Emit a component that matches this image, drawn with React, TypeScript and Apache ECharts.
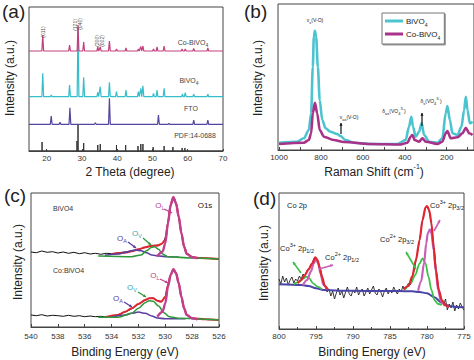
import React, { useEffect, useRef } from 'react';
import * as echarts from 'echarts';

const FONT = "'Liberation Sans', Arial, Helvetica, sans-serif";

// ---------- (a) XRD ----------
const xrdTickValues = [20, 30, 40, 50, 60, 70];
const xrdCoBase = 100;
const xrdCoPeaks = [[18.9, 116], [26.5, 106], [28.9, 126], [30.5, 109], [34.5, 104], [35.2, 104], [37.8, 110], [39.8, 102], [42.5, 103], [46.0, 102], [46.7, 104.5], [47.3, 105], [50.3, 102], [51.3, 104], [53.3, 105], [58.4, 102], [59.3, 102], [61.7, 102.5], [65.7, 103]];
const xrdBiBase = 54.3;
const xrdBiPeaks = [[18.9, 77.7], [21.3, 56], [26.5, 66], [28.9, 124], [30.5, 73.7], [34.5, 58.7], [35.2, 64.3], [37.8, 68.7], [39.8, 59.3], [42.5, 61], [46.0, 59.3], [46.7, 62.7], [47.3, 65.3], [50.3, 57.7], [51.3, 61], [53.3, 62.7], [58.5, 57], [59.3, 58.3], [61.7, 56.7], [65.7, 56.7]];
const xrdFtoBase = 26.7;
const xrdFtoPeaks = [[21.3, 35], [23.8, 28.7], [26.6, 43.3], [33.8, 28.3], [37.8, 52.7], [51.7, 36], [54.7, 27.7], [61.7, 31], [65.7, 31]];
const pdfSticks = [[18.7, 9], [28.6, 10], [28.9, 26], [30.5, 8], [34.5, 6], [35.2, 7], [39.8, 6], [42.4, 6], [45.9, 5], [46.7, 7], [47.3, 7], [50.2, 4], [53.3, 5], [55.8, 4], [58.4, 3], [59.2, 3]];

// ---------- (b) Raman ----------
const ramanLabelValues = [1000, 800, 600, 400, 200];
const ramanTickValues = [1000, 900, 800, 700, 600, 500, 400, 300, 200, 100];
const ramanBiVO4 = [[1000, 7.3], [914, 8.3], [882, 11.7], [858, 20], [847, 36.7], [839, 83.3], [834, 113.3], [829, 119.3], [823, 113.3], [815, 83.3], [806, 50], [794, 30], [778, 21.7], [755, 18.3], [723, 16], [707, 14], [683, 10], [643, 7.3], [563, 6], [436, 6], [396, 10], [380, 23.3], [369, 33.3], [361, 23.3], [348, 13.3], [332, 18.3], [320, 26.7], [308, 15], [284, 8.3], [245, 7.3], [221, 11.7], [205, 36.7], [197, 44], [185, 30], [173, 16.7], [149, 15], [130, 23.3], [117, 40], [109, 53.3], [101, 40], [90, 26.7], [77, 28.3]];
const ramanCoBiVO4 = [[1000, 6], [882, 7.3], [858, 10], [847, 16.7], [839, 36.7], [829, 47.3], [818, 36.7], [806, 20], [786, 13.3], [739, 10], [691, 8], [563, 6], [420, 5.5], [388, 7.3], [372, 13.3], [364, 15], [353, 10], [332, 8.3], [316, 11.7], [300, 8.3], [245, 6], [221, 8.3], [205, 16.7], [197, 19], [181, 11.7], [149, 12.7], [125, 16.7], [109, 22.3], [93, 16.7], [77, 15]];

// ---------- (c) XPS O1s ----------
const cTopRaw = [[540, 75], [539.6, 74.3], [539.2, 76], [538.8, 74.7], [538.4, 75.3], [538, 74], [537.6, 75], [537.2, 73.7], [536.8, 74.7], [536.4, 73.3], [536, 74.3], [535.6, 73], [535.2, 73.7], [534.8, 72.7], [534.4, 73.7], [534, 73.3], [533.6, 74], [533.2, 74.7], [532.8, 75.3], [532.4, 76.3], [532, 77.7], [531.6, 79], [531.2, 80.7], [530.8, 81.7], [530.4, 82], [530.1, 85], [529.9, 95], [529.7, 114], [529.5, 127], [529.3, 128], [529.1, 117], [528.9, 102], [528.7, 86], [528.5, 76], [528.2, 71], [527.8, 69.3], [527.4, 69], [527, 68.7], [526.6, 68.3], [526.2, 68], [526, 68]];
const cTopEnvelope = [[534, 73], [533, 74.3], [532.5, 75.7], [532, 77.7], [531.5, 79.7], [531, 81.3], [530.6, 81.3], [530.3, 83], [530, 87], [529.8, 104.3], [529.6, 122.3], [529.4, 130], [529.2, 124], [529, 110.5], [528.8, 94], [528.6, 80.5], [528.4, 73.3], [528, 70], [527.5, 69], [526, 68]];
const cTopOL = [[530.6, 71], [530.2, 75.3], [530, 83.7], [529.8, 103.7], [529.6, 122], [529.4, 129.7], [529.2, 123.7], [529, 110.3], [528.8, 93.7], [528.6, 80.3], [528.4, 73], [528, 69.7], [527.6, 68.7]];
const cTopOV = [[535, 71], [532.5, 70.3], [531.8, 72], [531.4, 76.3], [531, 79.7], [530.8, 80.3], [530.5, 77.7], [530.2, 73], [529.8, 70.3], [528, 69], [526, 68]];
const cTopOA = [[534.5, 71.7], [533.5, 73], [533, 74.7], [532.5, 76.3], [532.2, 77], [531.8, 76.3], [531.4, 74.3], [531, 72], [530.5, 71], [529.8, 70.3], [529, 70]];
const cBotRaw = [[540, 12], [539.6, 11.3], [539.2, 12.3], [538.8, 11], [538.4, 11.7], [538, 11.3], [537.6, 10.7], [537.2, 11.7], [536.8, 10.7], [536.4, 11.3], [536, 10.3], [535.6, 11], [535.2, 10.3], [534.8, 10.7], [534.4, 10], [534, 11], [533.6, 12], [533.2, 14], [532.8, 16], [532.4, 19], [532, 23], [531.6, 26], [531.2, 28.7], [530.9, 29], [530.6, 26.5], [530.3, 25.5], [530, 30], [529.8, 42], [529.6, 52], [529.4, 58], [529.2, 54], [529, 44], [528.8, 30.5], [528.6, 19], [528.4, 12], [528, 8.7], [527.6, 8], [527.2, 7.7], [526.8, 7.3], [526.4, 7.3], [526, 7]];
const cBotEnvelope = [[534.5, 9.7], [533.5, 12], [533, 15.3], [532.5, 18.7], [532, 23], [531.5, 27], [531.2, 28.7], [530.9, 28.7], [530.6, 26.3], [530.3, 25.3], [530, 30.3], [529.8, 42], [529.6, 52], [529.4, 58], [529.2, 54], [529, 43.7], [528.8, 30.3], [528.6, 18.7], [528.4, 12], [528, 8.7], [527, 7.7], [526, 7]];
const cBotOL = [[530.6, 10.3], [530.2, 15.3], [530, 23.7], [529.8, 40.3], [529.6, 52], [529.4, 57.7], [529.2, 53.7], [529, 43.7], [528.8, 30.3], [528.6, 18.7], [528.4, 12], [528, 8.7], [527.6, 7.7]];
const cBotOV = [[535, 9.7], [533.5, 9.7], [532.5, 13.7], [532, 18.7], [531.5, 24.3], [531.2, 26.3], [530.9, 25.7], [530.5, 21], [530.1, 14.3], [529.7, 10.3], [529, 8.7], [526, 7]];
const cBotOA = [[534, 9.7], [533, 12], [532.5, 13.7], [532, 15], [531.5, 13.7], [531, 11], [530.6, 9], [530, 8.3], [528.5, 8.3]];

// ---------- (d) XPS Co 2p ----------
const dRaw = [[800, 50], [799.75, 45], [799.5, 53], [799.25, 47], [799, 51], [798.75, 44], [798.5, 49], [798.25, 52], [798, 46], [797.75, 50], [797.5, 48], [797.25, 53], [797, 50], [796.75, 55], [796.5, 53], [796.25, 58], [796, 60], [795.75, 63], [795.5, 66], [795.25, 71], [795, 70], [794.75, 68], [794.5, 62], [794.25, 55], [794, 47], [793.75, 42], [793.5, 37], [793.25, 40], [793, 33], [792.75, 38], [792.5, 30], [792.25, 36], [792, 41], [791.75, 34], [791.5, 38], [791.25, 31], [791, 37], [790.75, 42], [790.5, 35], [790.25, 33], [790, 39], [789.75, 36], [789.5, 42], [789.25, 34], [789, 38], [788.75, 40], [788.5, 33], [788.25, 37], [788, 41], [787.75, 35], [787.5, 39], [787.25, 43], [787, 36], [786.75, 34], [786.5, 40], [786.25, 37], [786, 32], [785.75, 38], [785.5, 41], [785.25, 35], [785, 39], [784.75, 36], [784.5, 42], [784.25, 38], [784, 35], [783.75, 40], [783.5, 37], [783.25, 43], [783, 39], [782.75, 42], [782.5, 46], [782.25, 44], [782, 52], [781.75, 58], [781.5, 68], [781.25, 78], [781, 89], [780.75, 102], [780.5, 112], [780.25, 120], [780, 123], [779.75, 119], [779.5, 110], [779.25, 94], [779, 78], [778.75, 58], [778.5, 44], [778.25, 33], [778, 28], [777.75, 24], [777.5, 30], [777.25, 19], [777, 25], [776.75, 21], [776.5, 27], [776.25, 18], [776, 24], [775.75, 20], [775.5, 26], [775.25, 22], [775, 19]];
const dBackground = [[800, 44.7], [797, 44], [796, 43], [795, 40.7], [794, 39], [792, 38.3], [788, 38], [784, 38], [782, 37.7], [781, 37], [780, 35.7], [779, 31.7], [778, 26.3], [777, 23], [776, 22], [775, 21.7]];
const dEnvelope12 = [[797.5, 45.7], [797, 49], [796.5, 54], [796, 59.7], [795.5, 65.7], [795.1, 71.7], [794.8, 69], [794.5, 61.7], [794.2, 52.3], [793.8, 43], [793.4, 39.7]];
const dEnvelope32 = [[783.2, 39.7], [782.5, 43], [782, 52.3], [781.5, 69], [781, 89], [780.6, 109], [780.2, 121.7], [780, 123], [779.7, 119], [779.4, 105.7], [779.1, 82.3], [778.8, 59], [778.4, 39], [778, 29], [777.5, 23.7], [777, 22.3]];
const dCo2p12 = [[796.8, 43.7], [796.2, 49], [795.7, 57.3], [795.3, 65.7], [795, 69.7], [794.7, 65.7], [794.4, 55.7], [794, 44], [793.5, 39.7]];
const dCo2p32 = [[781.2, 38.3], [780.8, 47.3], [780.4, 65.7], [780.1, 85.7], [779.9, 95.7], [779.6, 99.7], [779.4, 95.7], [779.1, 79], [778.8, 57.3], [778.5, 39], [778.1, 27.3], [777.6, 23]];
const dCo3p12 = [[798, 44.7], [797.2, 47.3], [796.7, 50.7], [796.3, 52.3], [795.9, 50.7], [795.4, 45.7], [794.8, 42.3], [794.2, 39.7]];
const dCo3p32 = [[783, 39], [782.2, 45.7], [781.6, 54], [781, 65.7], [780.6, 70.7], [780.2, 65.7], [779.8, 52.3], [779.4, 39], [779, 29], [778.5, 25], [778, 24]];

function peakTrace(base: number, peaks: number[][], xMin: number, xMax: number) {
  const pts: number[][] = [[xMin, base]];
  for (const [p, h] of peaks) {
    pts.push([p - 0.25, base], [p, h], [p + 0.25, base]);
  }
  pts.push([xMax, base]);
  return pts;
}
function stickTrace(sticks: number[][], xMin: number, xMax: number) {
  const pts: number[][] = [[xMin, 0]];
  for (const [p, h] of sticks) pts.push([p, 0], [p, h], [p, 0]);
  pts.push([xMax, 0]);
  return pts;
}

const line = (name: string, data: number[][], gi: number, color: string, width: number, smooth: any = false) => ({
  type: 'line', name, xAxisIndex: gi, yAxisIndex: gi, data, showSymbol: false, symbol: 'none',
  lineStyle: { color, width }, itemStyle: { color }, silent: true, z: 2,
  smooth, smoothMonotone: smooth ? 'x' : undefined,
});

const subRich = (fs: number) => ({ fontSize: fs, fontFamily: FONT, verticalAlign: 'bottom', padding: [0, 0, -2, 0] });
const supRich = (fs: number) => ({ fontSize: fs, fontFamily: FONT, verticalAlign: 'top', padding: [-2, 0, 0, 0] });

function T(x: number, y: number, text: string, size: number, o: any = {}) {
  return {
    type: 'text', x, y, rotation: o.rot || 0, z: 100,
    style: {
      text, fontSize: size, fontFamily: FONT, fill: o.color || '#222',
      align: o.align || 'center', verticalAlign: o.va || 'middle',
      rich: o.rich,
    },
  };
}
function arrow(x1: number, y1: number, x2: number, y2: number, color: string, w = 1.3) {
  const a = Math.atan2(y2 - y1, x2 - x1);
  const h = 3.2;
  const p1 = [x2 - h * Math.cos(a - 0.5), y2 - h * Math.sin(a - 0.5)];
  const p2 = [x2 - h * Math.cos(a + 0.5), y2 - h * Math.sin(a + 0.5)];
  return [
    { type: 'line', z: 100, shape: { x1, y1, x2, y2 }, style: { stroke: color, lineWidth: w } },
    { type: 'polygon', z: 100, shape: { points: [[x2, y2], p1, p2] }, style: { fill: color } },
  ];
}

const axisCommon = {
  axisLine: { show: true, lineStyle: { color: '#444', width: 1 } },
  splitLine: { show: false },
  axisLabel: { fontSize: 8, color: '#333', fontFamily: FONT, margin: 3, formatter: (v: number) => String(v) },
};

export default function App() {
  const ref = useRef<HTMLDivElement>(null);
  useEffect(() => {
    if (!ref.current) return;
    const chart = echarts.init(ref.current, null, { renderer: 'svg' });
    const cOL = '#c0408e', cOV = '#2f9a3c', cOA = '#5a3ea0', cRed = '#e02630';
    const rich7 = { s: subRich(5), p: supRich(5) };
    const rich8 = { s: subRich(5.5), p: supRich(5.5) };
    const rich5 = { s: subRich(4), p: supRich(4) };
    const graphic: any[] = [
      T(2, 11, '(a)', 19, { align: 'left' }),
      T(244, 11, '(b)', 19, { align: 'left' }),
      T(4, 195, '(c)', 19, { align: 'left' }),
      T(253, 198, '(d)', 19, { align: 'left' }),
      T(10, 78, 'Intensity (a.u.)', 12, { rot: Math.PI / 2 }),
      T(258, 78, 'Intensity (a.u.)', 12, { rot: Math.PI / 2 }),
      T(18, 262, 'Intensity (a.u.)', 12, { rot: Math.PI / 2 }),
      T(264, 263, 'Intensity (a.u.)', 12, { rot: Math.PI / 2 }),
      T(130, 172, '2 Theta (degree)', 12),
      T(374, 172, 'Raman Shift (cm{p|-1})', 12, { rich: { p: { fontSize: 7, fontFamily: FONT, verticalAlign: 'top', padding: [-3, 0, 0, 0] } } }),
      T(125, 352, 'Binding Energy (eV)', 12),
      T(372, 352, 'Binding Energy (eV)', 12),
      T(193, 42, 'Co-BiVO{s|4}', 7, { color: '#444', rich: rich7 }),
      T(189, 80, 'BiVO{s|4}', 7, { color: '#444', rich: rich7 }),
      T(191, 108, 'FTO', 7, { color: '#444' }),
      T(195, 135, 'PDF:14-0688', 7, { color: '#444' }),
      T(43, 32, '(011)', 5, { rot: Math.PI / 2, color: '#555' }),
      T(74.5, 25, '(121)', 5, { rot: Math.PI / 2, color: '#555' }),
      T(79.5, 24, '(040)', 5, { rot: Math.PI / 2, color: '#555' }),
      T(97, 41, '(200)', 5, { rot: Math.PI / 2, color: '#555' }),
      T(101.5, 41, '(002)', 5, { rot: Math.PI / 2, color: '#555' }),
      T(315, 20, 'ν{s|s}(V-O)', 5, { rich: rich5 }),
      T(349, 117, 'ν{s|as}(V-O)', 5, { rich: rich5 }),
      T(394, 111, 'δ{s|as}(VO{s|4}{p|3-})', 5, { rich: rich5 }),
      T(431, 101, 'δ{s|s}(VO{s|4}{p|3-})', 5, { rich: rich5 }),
      ...arrow(341, 134, 341, 123, '#111', 1.2),
      ...arrow(422, 126, 422, 113, '#111', 1.2),
      T(53, 208, 'BiVO4', 7, { align: 'left', color: '#333' }),
      T(205, 205, 'O1s', 8, { color: '#222' }),
      T(53, 270, 'Co:BiVO4', 7, { align: 'left', color: '#333' }),
      T(160, 205, 'O{s|L}', 8, { color: cOL, rich: rich8 }),
      T(137, 233, 'O{s|V}', 8, { color: '#3aa8b4', rich: rich8 }),
      T(122, 238, 'O{s|A}', 8, { color: cOA, rich: rich8 }),
      T(155, 275, 'O{s|L}', 8, { color: cOL, rich: rich8 }),
      T(132, 287, 'O{s|V}', 8, { color: '#3aa8b4', rich: rich8 }),
      T(118, 298, 'O{s|A}', 8, { color: cOA, rich: rich8 }),
      ...arrow(164, 209, 172, 213, cOL),
      ...arrow(143, 238, 151, 245, cOV),
      ...arrow(128, 242, 136, 248, cOA),
      ...arrow(160, 279, 168, 283, cOL),
      ...arrow(138, 292, 146, 297, cOV),
      ...arrow(124, 302, 132, 307, cOA),
      T(297, 205, 'Co 2p', 7.5, { color: '#222' }),
      T(297, 248, 'Co{p|3+} 2p{s|1/2}', 7.5, { rich: rich8 }),
      T(342, 257, 'Co{p|2+} 2p{s|1/2}', 7.5, { rich: rich8 }),
      T(397, 239, 'Co{p|2+} 2p{s|3/2}', 7.5, { rich: rich8 }),
      T(447, 205, 'Co{p|3+} 2p{s|3/2}', 7.5, { rich: rich8 }),
      ...arrow(301, 273, 293, 262, '#3cbf46', 1.6),
      ...arrow(319, 269, 333, 265, '#c860b8', 1.6),
      ...arrow(416, 269, 406, 252, '#3cbf46', 1.6),
      ...arrow(434, 231, 440, 220, '#c860b8', 1.6),
    ];

    const option: any = {
      animation: false,
      backgroundColor: '#fff',
      grid: [
        { left: 29, top: 7, width: 194, height: 144, show: true, borderColor: '#444', borderWidth: 1 },
        { left: 278, top: 4, width: 197, height: 146, show: true, borderColor: '#444', borderWidth: 1 },
        { left: 31, top: 193, width: 188, height: 134, show: true, borderColor: '#444', borderWidth: 1 },
        { left: 279, top: 193, width: 185, height: 136, show: true, borderColor: '#444', borderWidth: 1 },
      ],
      xAxis: [
        { gridIndex: 0, type: 'value', min: 15, max: 70, ...axisCommon,
          axisTick: { show: true, inside: true, length: 2, customValues: xrdTickValues, lineStyle: { color: '#444' } },
          axisLabel: { ...axisCommon.axisLabel, customValues: xrdTickValues } },
        { gridIndex: 1, type: 'value', min: 70, max: 1005, inverse: true, ...axisCommon,
          axisTick: { show: true, inside: true, length: 3, customValues: ramanTickValues, lineStyle: { color: '#444' } },
          axisLabel: { ...axisCommon.axisLabel, customValues: ramanLabelValues } },
        { gridIndex: 2, type: 'value', min: 526, max: 540, interval: 2, inverse: true, ...axisCommon,
          axisTick: { show: true, inside: true, length: 3, lineStyle: { color: '#444' } },
          axisLabel: { ...axisCommon.axisLabel, margin: 5 } },
        { gridIndex: 3, type: 'value', min: 775, max: 800, interval: 5, inverse: true, ...axisCommon,
          axisTick: { show: true, inside: true, length: 3, lineStyle: { color: '#444' } },
          minorTick: { show: true, splitNumber: 2, length: 2, lineStyle: { color: '#444' } },
          axisLabel: { ...axisCommon.axisLabel, margin: 3 } },
      ],
      yAxis: [
        { gridIndex: 0, type: 'value', min: 0, max: 144, show: false },
        { gridIndex: 1, type: 'value', min: 0, max: 146, show: false },
        { gridIndex: 2, type: 'value', min: 0, max: 134, show: false },
        { gridIndex: 3, type: 'value', min: 0, max: 136, show: false },
      ],
      legend: {
        data: ['BiVO4', 'Co-BiVO4'],
        left: 382, top: 13, orient: 'vertical', itemGap: 3, itemWidth: 18, itemHeight: 3,
        icon: 'rect', padding: [4, 4, 4, 3], borderColor: '#777', borderWidth: 1,
        shadowColor: '#999', shadowOffsetX: 1, shadowOffsetY: 1, shadowBlur: 0, backgroundColor: '#fff',
        selectedMode: false,
        formatter: (n: string) => (n === 'BiVO4' ? 'BiVO{s|4}' : 'Co-BiVO{s|4}'),
        textStyle: { fontSize: 8, fontFamily: FONT, color: '#222', padding: [0, 0, 0, -2], rich: { s: subRich(5) } },
      },
      graphic,
      series: [
        line('PDF', stickTrace(pdfSticks, 15, 70), 0, '#333', 1),
        line('FTO', peakTrace(xrdFtoBase, xrdFtoPeaks, 15, 70), 0, '#54459e', 1.2),
        line('XRD BiVO4', peakTrace(xrdBiBase, xrdBiPeaks, 15, 70), 0, '#35bec9', 1.2),
        line('XRD Co-BiVO4', peakTrace(xrdCoBase, xrdCoPeaks, 15, 70), 0, '#c2407c', 1.2),
        line('BiVO4', ramanBiVO4, 1, '#4cc4cf', 2.6, 0.3),
        line('Co-BiVO4', ramanCoBiVO4, 1, '#a8328a', 2.6, 0.3),
        line('c raw top', cTopRaw, 2, '#111', 1),
        line('c raw bot', cBotRaw, 2, '#111', 1),
        line('c env top', cTopEnvelope, 2, cRed, 2, 0.3),
        line('c env bot', cBotEnvelope, 2, cRed, 2, 0.3),
        line('c OA top', cTopOA, 2, cOA, 1.6, 0.3),
        line('c OA bot', cBotOA, 2, cOA, 1.6, 0.3),
        line('c OV top', cTopOV, 2, cOV, 1.6, 0.3),
        line('c OV bot', cBotOV, 2, cOV, 1.6, 0.3),
        line('c OL top', cTopOL, 2, cOL, 2.4, 0.3),
        line('c OL bot', cBotOL, 2, cOL, 2.4, 0.3),
        line('d raw', dRaw, 3, '#222', 0.9),
        line('d bg', dBackground, 3, '#4a44a8', 2, 0.3),
        line('d g12', dCo3p12, 3, '#3cbf46', 1.8, 0.3),
        line('d g32', dCo3p32, 3, '#3cbf46', 1.8, 0.3),
        line('d m12', dCo2p12, 3, '#c860b8', 2.2, 0.3),
        line('d m32', dCo2p32, 3, '#c860b8', 2.2, 0.3),
        line('d r12', dEnvelope12, 3, cRed, 2.2, 0.3),
        line('d r32', dEnvelope32, 3, cRed, 2.2, 0.3),
      ],
    };
    chart.setOption(option);
    return () => chart.dispose();
  }, []);
  return <div ref={ref} style={{ position: 'fixed', left: 0, top: 0, width: 474, height: 360 }} />;
}
